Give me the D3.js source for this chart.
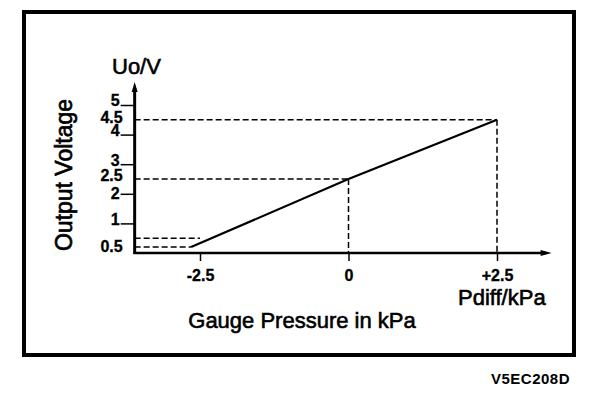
<!DOCTYPE html>
<html>
<head>
<meta charset="utf-8">
<script src="https://cdn.jsdelivr.net/npm/d3@7"></script>
<style>
  body { margin: 0; background: #fff; }
  text { font-family: "Liberation Sans", Arial, sans-serif; fill: #000; }
</style>
</head>
<body>
<div id="graphHolder"></div>
<script>
// values
var pressure = [-2.65, 0, 2.5];        // kPa
var voltage  = [0.2, 2.5, 4.5];        // V
var xTicks = [-2.5, 0, 2.5];
var xTickLabels = ["-2.5", "0", "+2.5"];
var yTicks = [1, 2, 3, 4, 5];
var yMarks = [0.5, 2.5, 4.5];          // labelled, no tick mark
var guideP = [-2.65, -2.5, 0, 2.5];    // dashed guide ends
var guideV = [0.2, 0.5, 2.5, 4.5];
var vertGuides = [0, 2.5];

var graphWidth = 608, graphHeight = 394;

var svg = d3.select("#graphHolder")
        .append("svg")
        .attr("width", graphWidth)
        .attr("height", graphHeight);

var x = d3.scaleLinear().domain([-2.5, 2.5]).range([200, 497]);
var y = d3.scaleLinear().domain([0, 5]).range([253, 105]);

// frame
svg.append("rect")
        .attr("x", 24).attr("y", 12)
        .attr("width", 550).attr("height", 343)
        .attr("fill", "none")
        .attr("stroke", "#000")
        .attr("stroke-width", 4);

// dashed guides
var g = svg.append("g");
guideP.forEach(function (p, i) {
    g.append("line")
            .attr("x1", x(-3.6)).attr("x2", x(p))
            .attr("y1", y(guideV[i])).attr("y2", y(guideV[i]))
            .attr("stroke", "#000").attr("stroke-width", 1.5)
            .attr("stroke-dasharray", "6,3");
});
vertGuides.forEach(function (p) {
    var v = voltage[pressure.indexOf(p)];
    g.append("line")
            .attr("x1", x(p)).attr("x2", x(p))
            .attr("y1", y(v)).attr("y2", y(0))
            .attr("stroke", "#000").attr("stroke-width", 1.5)
            .attr("stroke-dasharray", "6,3");
});

// characteristic line
var line = d3.line()
        .x(function (d) { return x(d[0]); })
        .y(function (d) { return y(d[1]); });

g.append("path")
        .datum(d3.zip(pressure, voltage))
        .attr("fill", "none")
        .attr("stroke", "#000")
        .attr("stroke-width", 2.2)
        .attr("d", line);

// axes lines with arrows
var x0 = x(-3.6), yTop = y(5.78), xEnd = x(3.42);
g.append("line").attr("x1", x0).attr("x2", x0).attr("y1", y(0) + 1).attr("y2", yTop + 6)
        .attr("stroke", "#000").attr("stroke-width", 3);
g.append("line").attr("x1", x0 - 1).attr("x2", xEnd - 6).attr("y1", y(0)).attr("y2", y(0))
        .attr("stroke", "#000").attr("stroke-width", 2.5);
g.append("path")
        .attr("d", "M" + x0 + "," + yTop + "l-3,10l6,0z")
        .attr("fill", "#000");
g.append("path")
        .attr("d", "M" + xEnd + "," + y(0) + "l-11,-3l0,6z")
        .attr("fill", "#000");

// y ticks
var yAxis = svg.append("g")
        .attr("transform", "translate(" + x0 + ",0)")
        .call(d3.axisLeft(y).tickValues(yTicks.concat(yMarks))
                .tickSize(14).tickPadding(1)
                .tickFormat(function (d) { return d; }))
        .attr("font-size", 16)
        .attr("font-family", null);
yAxis.select(".domain").remove();
yAxis.selectAll(".tick line")
        .attr("stroke-width", 1.5)
        .attr("x2", function (d) { return yMarks.indexOf(d) >= 0 ? 0 : -14; });
yAxis.selectAll(".tick text")
        .style("font-weight", "bold")
        .attr("stroke", "#000").attr("stroke-width", 0.3)
        .attr("dy", function (d) {
            if (d === 0.5) return "0.85em";
            if (d === 4.5) return "0.15em";
            if (d === 2.5) return "0.1em";
            if (d === 2) return "0.3em";
            return "0.05em";
        })
        .attr("x", function (d) { return yMarks.indexOf(d) >= 0 ? -12 : -15; });

// x ticks
var xAxis = svg.append("g")
        .attr("transform", "translate(0," + y(0) + ")")
        .call(d3.axisBottom(x).tickValues(xTicks)
                .tickSize(8).tickPadding(9)
                .tickFormat(function (d, i) { return xTickLabels[i]; }))
        .attr("font-size", 16)
        .attr("font-family", null);
xAxis.select(".domain").remove();
xAxis.selectAll(".tick line").attr("stroke-width", 1.5);
xAxis.selectAll(".tick text")
        .style("font-weight", "bold")
        .attr("stroke", "#000").attr("stroke-width", 0.3);

// titles
var big = "22px";
svg.append("text").attr("x", 112).attr("y", 74)
        .style("font-size", big).attr("stroke", "#000").attr("stroke-width", 0.6)
        .text("Uo/V");
svg.append("text")
        .attr("transform", "translate(72,175) rotate(-90)")
        .attr("text-anchor", "middle")
        .style("font-size", "23px").attr("stroke", "#000").attr("stroke-width", 0.7)
        .text("Output Voltage");
svg.append("text").attr("x", 458).attr("y", 305)
        .style("font-size", big).attr("stroke", "#000").attr("stroke-width", 0.6)
        .text("Pdiff/kPa");
svg.append("text").attr("x", 302).attr("y", 328)
        .attr("text-anchor", "middle")
        .style("font-size", big).attr("stroke", "#000").attr("stroke-width", 0.6)
        .text("Gauge Pressure in kPa");
svg.append("text").attr("x", 570).attr("y", 384)
        .attr("text-anchor", "end")
        .style("font-size", "15px").style("font-weight", "bold")
        .style("letter-spacing", "0.5px")
        .text("V5EC208D");
</script>
</body>
</html>
